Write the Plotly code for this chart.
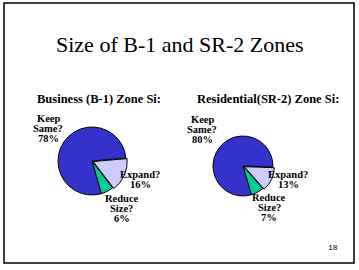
import plotly.graph_objects as go

W, H = 359, 270

title_text = "Size of B-1 and SR-2 Zones"
page_number = "18"

categories = ["Expand?", "Reduce Size?", "Keep Same?"]
label_lines = [["Expand?"], ["Reduce", "Size?"], ["Keep", "Same?"]]
colors = ["#CCCCFF", "#00CC99", "#3333CC"]

b1_title = "Business (B-1) Zone Si:"
b1_values = [16, 6, 78]

sr2_title = "Residential(SR-2) Zone Si:"
sr2_values = [13, 7, 80]

SERIF = "Liberation Serif"


def px_x(x):
    return x / W


def px_y(y):
    return 1 - y / H


fig = go.Figure()

pies = [
    dict(values=b1_values, center=(92, 161), r=34, pull=0.04, rot=85),
    dict(values=sr2_values, center=(243, 166), r=30, pull=0.05, rot=92),
]

for p in pies:
    cx, cy = p["center"]
    half = p["r"] * (1 + p["pull"])
    fig.add_trace(go.Pie(
        labels=categories,
        values=p["values"],
        sort=False,
        direction="clockwise",
        rotation=p["rot"],
        pull=[p["pull"], 0, 0],
        marker=dict(colors=colors, line=dict(color="black", width=1)),
        textinfo="none",
        hoverinfo="label+percent",
        showlegend=False,
        domain=dict(x=[px_x(cx - half), px_x(cx + half)],
                    y=[px_y(cy + half), px_y(cy - half)]),
    ))

label_font = dict(family=SERIF, size=10.5, color="black")
annotations = []

# label block positions: (center x, first line y) for [Expand, Reduce, Keep]
label_pos = [
    [(140, 174), (122, 198), (48, 118)],
    [(288, 174), (269, 197), (202, 119)],
]
LINE_GAP = 10
for vals, poss in zip([b1_values, sr2_values], label_pos):
    for lines, v, (x, y0) in zip(label_lines, vals, poss):
        for k, s in enumerate(lines + ["%d%%" % v]):
            annotations.append(dict(
                x=px_x(x), y=px_y(y0 + k * LINE_GAP), xref="paper", yref="paper",
                text="<b>%s</b>" % s, showarrow=False, font=label_font,
                xanchor="center", yanchor="middle", borderpad=0,
            ))

annotations.append(dict(
    x=px_x(179), y=px_y(44), xref="paper", yref="paper", text=title_text,
    showarrow=False, font=dict(family=SERIF, size=22, color="black"),
    xanchor="center", yanchor="middle"))
annotations.append(dict(
    x=px_x(35), y=px_y(99), xref="paper", yref="paper", text="<b>%s</b>" % b1_title,
    showarrow=False, font=dict(family=SERIF, size=12.5, color="black"),
    xanchor="left", yanchor="middle"))
annotations.append(dict(
    x=px_x(195), y=px_y(99), xref="paper", yref="paper", text="<b>%s</b>" % sr2_title,
    showarrow=False, font=dict(family=SERIF, size=12.5, color="black"),
    xanchor="left", yanchor="middle"))
annotations.append(dict(
    x=px_x(333), y=px_y(247), xref="paper", yref="paper", text=page_number,
    showarrow=False, font=dict(family="Liberation Mono", size=8, color="black"),
    xanchor="center", yanchor="middle"))

fig.update_layout(
    width=W, height=H,
    margin=dict(l=0, r=0, t=0, b=0),
    paper_bgcolor="white", plot_bgcolor="white",
    annotations=annotations,
    shapes=[dict(type="rect", xref="paper", yref="paper",
                 x0=px_x(4), x1=px_x(354), y0=px_y(263), y1=px_y(3),
                 line=dict(color="black", width=1.5))],
)

fig.write_html("out.html")
